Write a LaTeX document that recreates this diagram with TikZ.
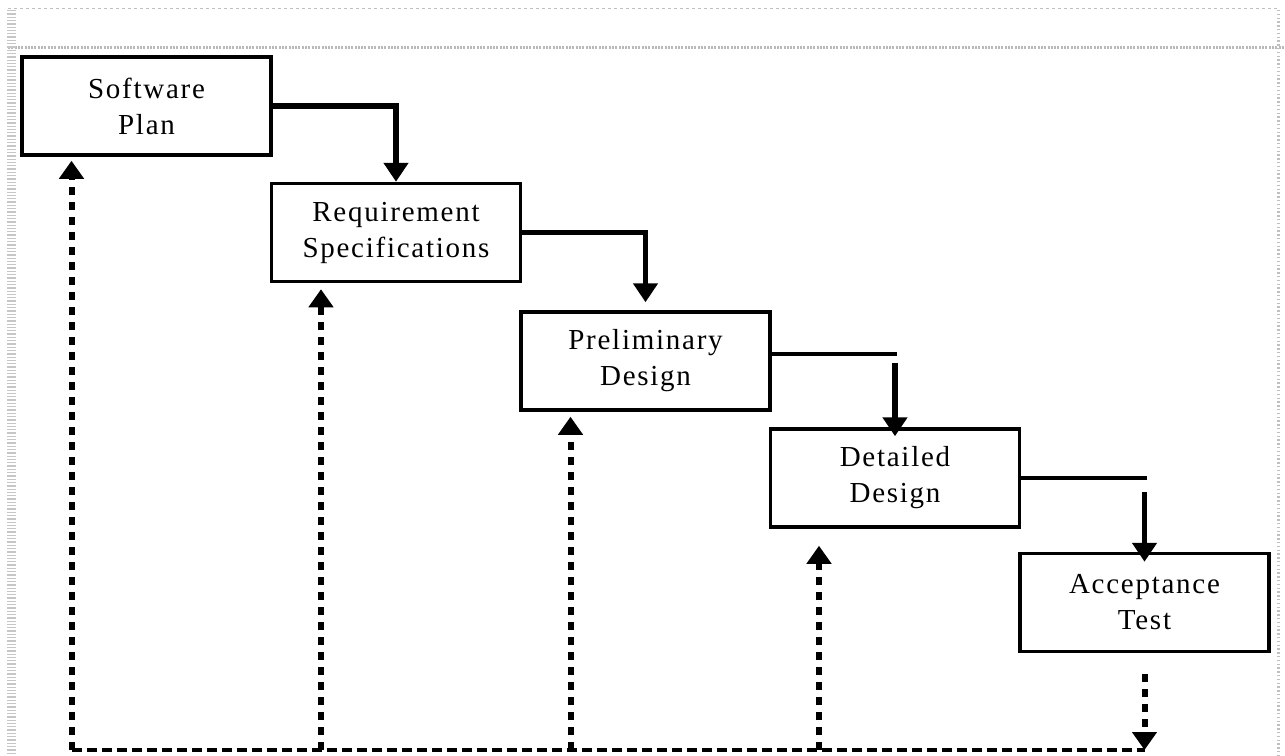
\documentclass[tikz,border=0pt]{standalone}
\usepackage{fontspec}
\setmainfont{Liberation Serif}[LetterSpace=6]
\usetikzlibrary{arrows.meta,calc}
\begin{document}
\begin{tikzpicture}[x=1pt,y=-1pt,
  stage/.style={draw,line width=3.5pt,minimum width=249pt,minimum height=98pt,
    align=center,inner sep=0pt,font=\fontsize{29}{36}\selectfont},
  flow/.style={line width=5.5pt,-{Triangle[width=24pt,length=19pt]}},
  flowline/.style={line width=3.5pt},
  fb/.style={line width=6pt,dash pattern=on 8pt off 7pt,-{Triangle[width=24pt,length=18pt]}},
  fbbase/.style={line width=4.5pt,dash pattern=on 10pt off 5pt},
  framethin/.style={gray!50,line width=1pt,dash pattern=on 3pt off 3pt},
  framethick/.style={gray!55,line width=3pt,dash pattern=on 2pt off 1.3pt}]
\useasboundingbox (0,0) rectangle (1285,755);
% frame
\draw[framethin] (8,8) -- (1277,8);
\draw[framethick] (8,47.5) -- (1285,47.5);
\draw[gray!45,line width=9pt,dash pattern=on 1.3pt off 2pt] (11.5,10) -- (11.5,755);
\draw[gray!50,line width=3pt,dash pattern=on 1.3pt off 2.5pt] (1278,10) -- (1278,755);
% stages
\node[stage] (sp) at (146.5,106) {Software\\Plan};
\node[stage] (rs) at (396,232.5) {Requirement\\Specifications};
\node[stage] (pd) at (645.5,361) {Preliminary\\Design};
\node[stage] (dd) at (895,478) {Detailed\\Design};
\node[stage] (at) at (1144.5,602.5) {Acceptance\\Test};
% forward flow
\draw[flow] (sp.east) -| (rs.north);
\draw[flow,shorten >=8pt] (rs.east) -| (pd.north);
\draw[flowline] ($(pd.east)+(0,-7)$) -- ($(pd.east -| dd.north)+(2,-7)$);
\draw[flow] ($(pd.east -| dd.north)+(0,2)$) -- ($(dd.north)+(0,9)$);
\draw[flowline] (dd.east) -- ($(dd.east -| at.north)+(2,0)$);
\draw[flow] ($(dd.east -| at.north)+(0,14)$) -- ($(at.north)+(0,10)$);
% feedback
\coordinate (base) at (0,750);
\coordinate (f1) at ($(sp.south)+(-75,0)$);
\coordinate (f2) at ($(rs.south)+(-75,0)$);
\coordinate (f3) at ($(pd.south)+(-75,0)$);
\coordinate (f4) at ($(dd.south)+(-76,0)$);
\draw[fbbase] (f1 |- base) -- (at.south |- base);
\draw[fb,shorten >=4pt] (f1 |- base) -- (f1);
\draw[fb,shorten >=6pt] (f2 |- base) -- (f2);
\draw[fb,shorten >=5pt] (f3 |- base) -- (f3);
\draw[fb,shorten >=17pt] (f4 |- base) -- (f4);
\draw[fb] ($(at.south)+(0,21)$) -- (at.south |- base);
\end{tikzpicture}
\end{document}
